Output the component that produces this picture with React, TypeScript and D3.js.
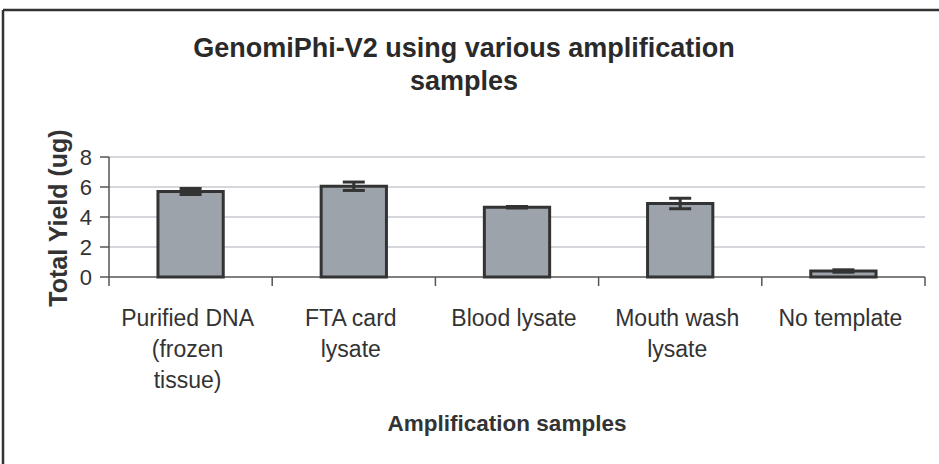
import React from "react";
import * as d3 from "d3";

const categories = ["Purified DNA (frozen tissue)", "FTA card lysate", "Blood lysate", "Mouth wash lysate", "No template"];
const categoryLines = [["Purified DNA", "(frozen", "tissue)"], ["FTA card", "lysate"], ["Blood lysate"], ["Mouth wash", "lysate"], ["No template"]];
const yields = [5.7, 6.05, 4.65, 4.9, 0.4];
const errors = [0.2, 0.28, 0.05, 0.35, 0.08];
const yTicks = [0, 2, 4, 6, 8];
const titleLines = ["GenomiPhi-V2 using various amplification", "samples"];

const W = 939, H = 464;
const left = 109, right = 925, top = 157, bottom = 277;

export default function App() {
  const x = d3.scaleBand<string>().domain(categories).range([left, right]).paddingInner(0.6).paddingOuter(0.3);
  const y = d3.scaleLinear().domain([0, 8]).range([bottom, top]);
  const step = x.step();
  const boundaries = d3.range(categories.length + 1).map((i) => left + i * step);
  const font = "'Liberation Sans', Arial, Helvetica, sans-serif";
  return (
    <svg width={W} height={H} style={{ position: "absolute", left: 0, top: 0, background: "#fff" }} fontFamily={font}>
      <rect x={0} y={0} width={W} height={H} fill="#fff" />
      <line x1={3} y1={10} x2={W} y2={10} stroke="#333" strokeWidth={2.5} />
      <line x1={3} y1={10} x2={3} y2={H} stroke="#333" strokeWidth={2.5} />
      {titleLines.map((t, i) => (
        <text key={t} x={464} y={57 + i * 33} textAnchor="middle" fontSize={27} fontWeight="bold" fill="#2a2a2a">{t}</text>
      ))}
      {yTicks.filter((t) => t > 0).map((t) => (
        <line key={"g" + t} x1={left} x2={right} y1={y(t)} y2={y(t)} stroke="#c9c8d2" strokeWidth={1.5} />
      ))}
      <line x1={left} x2={left} y1={top} y2={bottom} stroke="#555" strokeWidth={1.5} />
      {yTicks.map((t) => (
        <g key={"t" + t}>
          <line x1={left - 9} x2={left} y1={y(t)} y2={y(t)} stroke="#555" strokeWidth={1.5} />
          <text x={92} y={y(t) + 7.5} textAnchor="end" fontSize={22} fill="#333">{t}</text>
        </g>
      ))}
      <line x1={left} x2={right} y1={bottom} y2={bottom} stroke="#555" strokeWidth={1.5} />
      {boundaries.map((b, i) => (
        <line key={"b" + i} x1={b} x2={b} y1={bottom} y2={bottom + 9} stroke="#555" strokeWidth={1.5} />
      ))}
      {categories.map((c, i) => {
        const bx = x(c)!;
        const bw = x.bandwidth();
        const cx = bx + bw / 2;
        return (
          <g key={c}>
            <rect x={bx} y={y(yields[i])} width={bw} height={y(0) - y(yields[i])} fill="#9da3aa" stroke="#333" strokeWidth={3} />
            <line x1={cx} x2={cx} y1={y(yields[i] + errors[i])} y2={y(yields[i] - errors[i])} stroke="#333" strokeWidth={3} />
            <line x1={cx - 11} x2={cx + 11} y1={y(yields[i] + errors[i])} y2={y(yields[i] + errors[i])} stroke="#333" strokeWidth={3} />
            <line x1={cx - 11} x2={cx + 11} y1={y(yields[i] - errors[i])} y2={y(yields[i] - errors[i])} stroke="#333" strokeWidth={3} />
            {categoryLines[i].map((l, j) => (
              <text key={l} x={cx - 3} y={326 + j * 31} textAnchor="middle" fontSize={23} fill="#333">{l}</text>
            ))}
          </g>
        );
      })}
      <text x={507} y={431} textAnchor="middle" fontSize={22.5} fontWeight="bold" fill="#333">Amplification samples</text>
      <text transform="translate(67,218) rotate(-90)" textAnchor="middle" fontSize={25} fontWeight="bold" fill="#333">Total Yield (ug)</text>
    </svg>
  );
}
